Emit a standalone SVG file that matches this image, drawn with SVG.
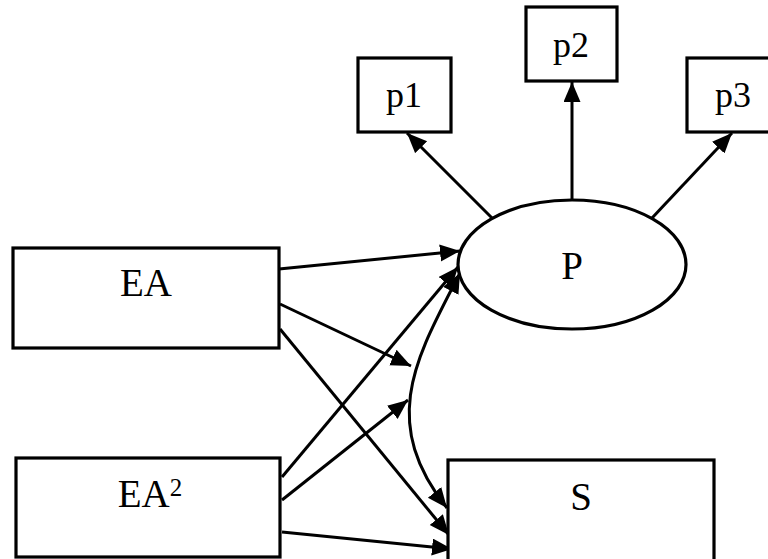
<svg xmlns="http://www.w3.org/2000/svg" width="768" height="559" viewBox="0 0 768 559">
<style>
.box{fill:#fff;stroke:#000;stroke-width:3.2}
.lbl{font-family:"Liberation Serif","Times New Roman",serif;fill:#000;text-anchor:middle}
.big{font-size:39px}
.sm{font-size:36px}
.edge{fill:none;stroke:#000;stroke-width:3}
</style>
<defs>
<marker id="ah" markerUnits="userSpaceOnUse" markerWidth="22" markerHeight="18" refX="20" refY="8.5" orient="auto-start-reverse">
<path d="M0,0 L20,8.5 L0,17 z" fill="#000"/>
</marker>
</defs>
<rect width="768" height="559" fill="#fff"/>
<g id="connectors">
<line class="edge" x1="279" y1="269" x2="460" y2="251" marker-end="url(#ah)"/>
<line class="edge" x1="280" y1="304" x2="411" y2="366" marker-end="url(#ah)"/>
<line class="edge" x1="280" y1="329" x2="449" y2="535" marker-end="url(#ah)"/>
<line class="edge" x1="282" y1="477" x2="458" y2="267" marker-end="url(#ah)"/>
<line class="edge" x1="282" y1="500" x2="408" y2="400" marker-end="url(#ah)"/>
<line class="edge" x1="282" y1="532" x2="452" y2="549" marker-end="url(#ah)"/>
<line class="edge" x1="492" y1="218" x2="407" y2="133" marker-end="url(#ah)"/>
<line class="edge" x1="572" y1="200" x2="572" y2="82" marker-end="url(#ah)"/>
<line class="edge" x1="652" y1="218" x2="732" y2="133" marker-end="url(#ah)"/>
<path class="edge" d="M460,273 C418,355 377,420 447,508" marker-start="url(#ah)" marker-end="url(#ah)"/>
</g>
<g id="node-p1"><rect class="box" x="358" y="58" width="93" height="74"/><text class="lbl sm" x="404" y="107">p1</text></g>
<g id="node-p2"><rect class="box" x="526" y="7" width="91" height="74"/><text class="lbl sm" x="571" y="57">p2</text></g>
<g id="node-p3"><rect class="box" x="687" y="58" width="93" height="74"/><text class="lbl sm" x="733" y="107">p3</text></g>
<g id="node-P"><ellipse class="box" cx="572" cy="264.5" rx="114" ry="64.5" stroke-width="2.8"/><text class="lbl big" x="572" y="279">P</text></g>
<g id="node-EA"><rect class="box" x="13" y="248" width="266" height="100"/><text class="lbl big" x="146" y="296">EA</text></g>
<g id="node-EA2"><rect class="box" x="16" y="458" width="264" height="99"/><text class="lbl big" x="150" y="507">EA<tspan font-size="25" dy="-11">2</tspan></text></g>
<g id="node-S"><rect class="box" x="448" y="460" width="266" height="110"/><text class="lbl big" x="581" y="510">S</text></g>
</svg>
